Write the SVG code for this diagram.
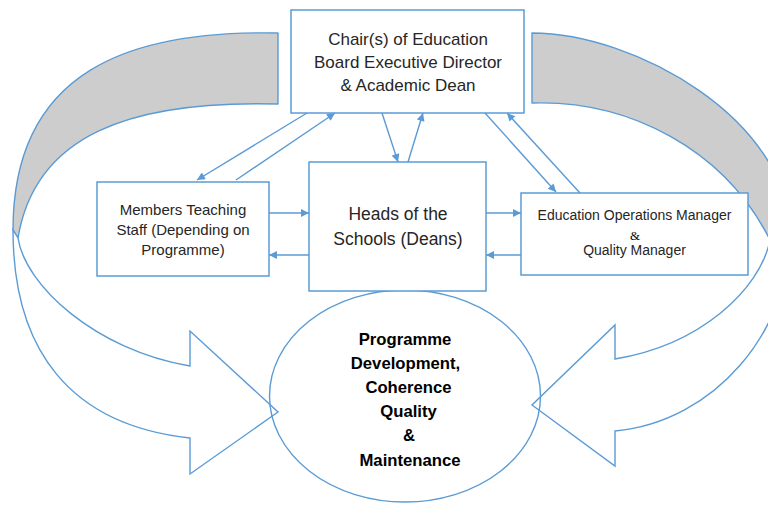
<svg xmlns="http://www.w3.org/2000/svg" width="768" height="506" viewBox="0 0 768 506">
  <style>
    .ln { stroke: #5B9BD5; stroke-width: 1.4; fill: none; }
    .box { stroke: #5B9BD5; stroke-width: 1.5; fill: #FFFFFF; }
    .back { stroke: #5B9BD5; stroke-width: 1.4; fill: #CDCDCD; stroke-linejoin: round; }
    .front { stroke: #5B9BD5; stroke-width: 1.4; fill: #FFFFFF; stroke-linejoin: miter; }
    .t { font-family: "Liberation Sans", Arial, sans-serif; fill: #262626; text-anchor: middle; }
    .b { font-family: "Liberation Sans", Arial, sans-serif; font-weight: bold; fill: #000000; text-anchor: middle; font-size: 16.7px; }
  </style>
  <defs>
    <marker id="ah" viewBox="0 0 10 10" refX="10" refY="5" markerWidth="9" markerHeight="8" markerUnits="userSpaceOnUse" orient="auto">
      <path d="M0,0 L10,5 L0,10 Z" fill="#5B9BD5"/>
    </marker>
  </defs>
  <rect width="768" height="506" fill="#FFFFFF"/>

  <g id="cycle-left">
    <path class="back" d="M278,104 C130,100 35,135 18,238 L13,230 C13,70 130,30 278,33 Z"/>
    <path class="front" d="M18,238 C25,285 95,350 190,366 L190,331 L278,412 L190,474 L190,438 C70,425 13,350 13,230 Z"/>
  </g>
  <g id="cycle-right">
    <path class="back" d="M532,103 C630,100 725,150 770,240 L790,235 C790,120 635,33 532,33 Z"/>
    <path class="front" d="M770,240 C760,290 700,345 615,359 L615,325 L532,405 L615,466 L615,431 C715,422 790,330 790,235 Z"/>
  </g>

  <g id="node-goal">
    <ellipse class="ln" cx="405" cy="396" rx="135.5" ry="106"/>
    <text class="b" x="405" y="345">Programme</text>
    <text class="b" x="405.5" y="369">Development,</text>
    <text class="b" x="408.5" y="393">Coherence</text>
    <text class="b" x="408.5" y="417">Quality</text>
    <text class="b" x="409" y="441">&amp;</text>
    <text class="b" x="410" y="466">Maintenance</text>
  </g>

  <g id="node-chair">
    <rect class="box" x="291" y="10" width="233" height="103"/>
    <text class="t" font-size="17" x="408" y="45">Chair(s) of Education</text>
    <text class="t" font-size="17" x="408" y="68">Board Executive Director</text>
    <text class="t" font-size="17" x="408" y="91">&amp; Academic Dean</text>
  </g>

  <g id="node-staff">
    <rect class="box" x="97" y="182" width="172" height="94"/>
    <text class="t" font-size="15" x="183" y="215">Members Teaching</text>
    <text class="t" font-size="15" x="183" y="235">Staff (Depending on</text>
    <text class="t" font-size="15" x="183" y="255">Programme)</text>
  </g>

  <g id="node-heads">
    <rect class="box" x="309" y="162" width="177" height="129"/>
    <text class="t" font-size="17.5" x="398" y="220">Heads of the</text>
    <text class="t" font-size="17.5" x="398" y="245">Schools (Deans)</text>
  </g>

  <g id="node-ops">
    <rect class="box" x="521" y="193" width="227" height="82"/>
    <text class="t" font-size="14" x="634.5" y="220">Education Operations Manager</text>
    <text font-family="Liberation Serif, 'Times New Roman', serif" font-size="13" fill="#000000" text-anchor="middle" x="635" y="240">&amp;</text>
    <text class="t" font-size="14" x="634.5" y="255">Quality Manager</text>
  </g>

  <g id="connectors">
    <line class="ln" x1="307" y1="113" x2="197" y2="180" marker-end="url(#ah)"/>
    <line class="ln" x1="236" y1="180" x2="335" y2="113" marker-end="url(#ah)"/>
    <line class="ln" x1="382" y1="113" x2="398" y2="162" marker-end="url(#ah)"/>
    <line class="ln" x1="408" y1="162" x2="423" y2="113" marker-end="url(#ah)"/>
    <line class="ln" x1="269" y1="213" x2="309" y2="213" marker-end="url(#ah)"/>
    <line class="ln" x1="309" y1="255" x2="269" y2="255" marker-end="url(#ah)"/>
    <line class="ln" x1="486" y1="213" x2="521" y2="213" marker-end="url(#ah)"/>
    <line class="ln" x1="521" y1="255" x2="486" y2="255" marker-end="url(#ah)"/>
    <line class="ln" x1="485" y1="113" x2="556" y2="192" marker-end="url(#ah)"/>
    <line class="ln" x1="580" y1="193" x2="507" y2="113" marker-end="url(#ah)"/>
  </g>
</svg>
